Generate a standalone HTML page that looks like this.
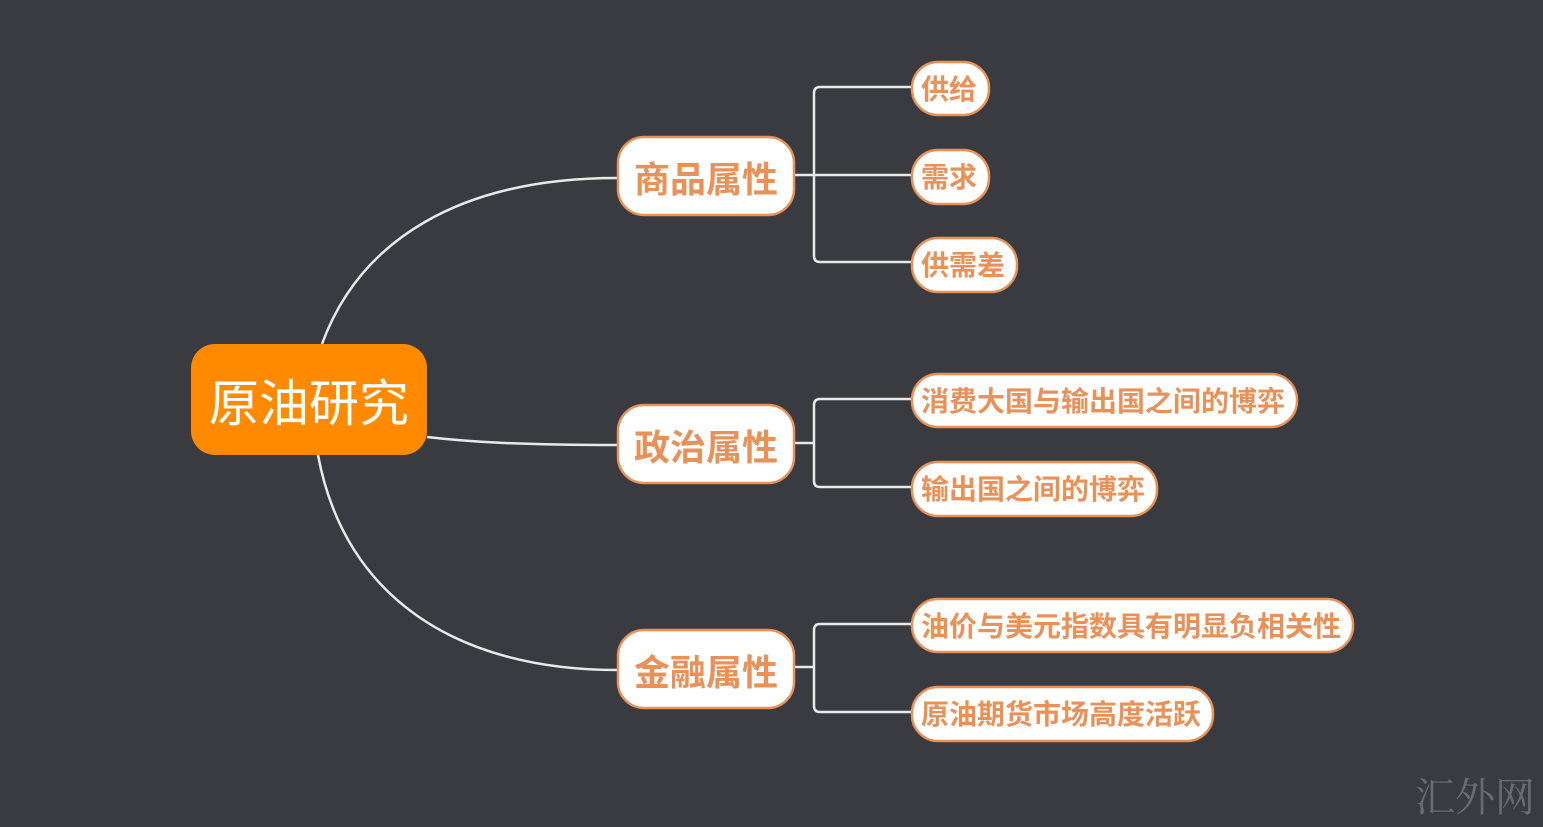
<!DOCTYPE html>
<html><head><meta charset="utf-8"><style>
html,body{margin:0;padding:0;background:#393b40;}
svg{display:block}
.l2{font-family:"Liberation Sans","Noto Sans CJK SC",sans-serif;font-weight:bold;font-size:28px;fill:#e8925a}
.l1{font-family:"Liberation Sans","Noto Sans CJK SC",sans-serif;font-weight:bold;font-size:36px;fill:#e8925a}
</style></head><body>
<svg width="1543" height="827" viewBox="0 0 1543 827">
<rect width="1543" height="827" fill="#393b40"/>
<g fill="none" stroke="#e9e9ea" stroke-width="2.5">
<path d="M322 344 C360 240 460 178 617 178"/>
<path d="M427 437 C470 442 520 445 617 445"/>
<path d="M318 455 C345 600 460 670 617 670"/>
<path d="M794 175 H911 M911 87 H820 Q814 87 814 93 V256 Q814 262 820 262 H911"/>
<path d="M794 443 H814 M911 399 H820 Q814 399 814 405 V481 Q814 487 820 487 H911"/>
<path d="M794 667 H814 M911 624 H820 Q814 624 814 630 V706 Q814 712 820 712 H911"/>
</g>
<rect x="191" y="344" width="236" height="111" rx="24" fill="#ff8a00"/>
<text x="309" y="421" text-anchor="middle" font-family="Liberation Sans,Noto Sans CJK SC,sans-serif" font-size="50" fill="#fff">原油研究</text>
<g fill="#fff" stroke="#e8925a" stroke-width="2.5">
<rect x="618" y="137" width="176" height="78" rx="26"/>
<rect x="618" y="405" width="176" height="78" rx="26"/>
<rect x="618" y="630" width="176" height="78" rx="26"/>
<rect x="912" y="62" width="77" height="53" rx="26"/>
<rect x="912" y="150" width="77" height="54" rx="26"/>
<rect x="912" y="238" width="105" height="54" rx="26"/>
<rect x="912" y="374" width="385" height="53" rx="26"/>
<rect x="912" y="462" width="245" height="54" rx="26"/>
<rect x="912" y="599" width="441" height="53" rx="26"/>
<rect x="912" y="687" width="301" height="54" rx="26"/>
</g>
<text class="l1" x="706" y="192" text-anchor="middle">商品属性</text>
<text class="l1" x="706" y="460" text-anchor="middle">政治属性</text>
<text class="l1" x="706" y="685" text-anchor="middle">金融属性</text>
<text class="l2" x="921" y="99">供给</text>
<text class="l2" x="921" y="187">需求</text>
<text class="l2" x="921" y="275">供需差</text>
<text class="l2" x="921" y="411">消费大国与输出国之间的博弈</text>
<text class="l2" x="921" y="499">输出国之间的博弈</text>
<text class="l2" x="921" y="636">油价与美元指数具有明显负相关性</text>
<text class="l2" x="921" y="724">原油期货市场高度活跃</text>
<text x="1475" y="811" text-anchor="middle" font-family="Liberation Serif,Noto Serif CJK SC,serif" font-size="40" fill="#6a6c70">汇外网</text>
</svg>
</body></html>
